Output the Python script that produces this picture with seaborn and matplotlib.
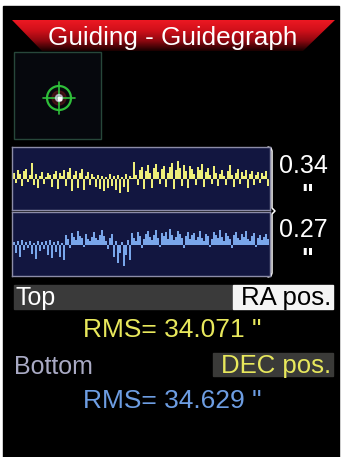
import numpy as np
import pandas as pd
import matplotlib
matplotlib.use('Agg')
import matplotlib.pyplot as plt
import seaborn as sns
from matplotlib.patches import Polygon, Rectangle, Circle
from matplotlib.colors import LinearSegmentedColormap

# guide error traces (screen pixels, + up / - down from centre line)
ra_trace = [
    6, -4, 9, 5, -7, 8, 10, -3, 4, 16,
    -6, 5, -9, 3, 7, -5, 2, 6, 4, -8,
    5, 8, -10, 6, 3, 9, -7, 7, 11, -12,
    4, 8, -9, 6, 10, -11, 3, 7, -6, 5,
    2, -8, 4, -10, 3, -12, 2, -9, 5, -7,
    3, -11, 4, -14, 2, -8, 5, -13, 3, 1,
    17, 4, -6, 9, 12, -10, 8, 14, 6, -9,
    11, 15, 7, -5, 10, 13, -8, 6, 12, 16,
    -10, 9, 18, 11, -7, 14, 8, -9, 13, 10,
    5, -6, 12, 9, 15, -8, 7, 11, 4, -5,
    13, 6, -7, 5, 9, 3, -6, 8, 14, 4,
    -8, 6, 10, -5, 7, 3, 9, -9, 5, 8,
    -6, 4, 7, -4, 6, 3, 8, -7,
]
dec_trace = [
    2, -8, 3, -12, 4, -5, 2, -3, 3, -9, 1, -14, 3, -6, 2, -4, 3, -10, 4, -13,
    2, -7, 3, -12, 1, -15,
    9, 5, -3, 11, 7, 4, 13, 8, 6, -2, 10, 5, 3, 7, 12, 6, 4, 9, 14, 8, 3, -4, 6, 10,
    -12, 3, -18, -8, 2, -21, -10, 4, -15,
    11, 6, 3, 12, 8, -3, 5, 10, 13, 7, 4, 9, 14, 6, -2, 11, 8, 12, 5, 15,
    9, 4, 7, 13, 10, 6, -3, 8, 12, 5, 9, 11, 4, 7, 13, 6, 3, 10, 8, -2,
    5, 12, 9, 6, 14, 7, 3, 11, 8, 5, -3, 9, 12, 6, 4, 10, 7, 13, 5, 3,
    8, 11, -2, 6, 9, 4, 7, 10, 5,
]
scale_labels = ['0.34', '0.27']
rms_labels = ['RMS= 34.071 "', 'RMS= 34.629 "']
title = 'Guiding - Guidegraph'

sns.set_style('dark')
plt.rcParams['font.family'] = ['Liberation Sans', 'DejaVu Sans']

W, H = 342, 457
fig = plt.figure(figsize=(W / 100, H / 100), dpi=100, facecolor='white')


def px_axes(x0, y0, x1, y1):
    return fig.add_axes([x0 / W, 1 - y1 / H, (x1 - x0) / W, (y1 - y0) / H])


canvas = fig.add_axes([0, 0, 1, 1])
canvas.axis('off')
canvas.add_patch(Rectangle((3, 6), 336, 451, color='black', zorder=0))

# red title banner with vertical fade
red = LinearSegmentedColormap.from_list('banner', ['#ec1822', '#d0101a', '#900810', '#1a0000'])
grad = np.linspace(0, 1, 64).reshape(-1, 1)
im = canvas.imshow(grad, extent=(12, 335, 51, 20), cmap=red, aspect='auto', zorder=1)
banner = Polygon([(12, 20), (335, 20), (303, 51), (42, 51)], closed=True, fc='none', ec='none')
canvas.add_patch(banner)
im.set_clip_path(banner)
canvas.text(173, 45, title, ha='center', va='baseline', color='white', fontsize=18.8, zorder=3)

# star thumbnail
canvas.add_patch(Rectangle((14, 52), 87, 87, fc='#06080d', ec='#27473a', lw=1, zorder=1))
canvas.add_patch(Circle((59, 98), 7, color='#6a1a1a', alpha=0.5, zorder=2))
canvas.add_patch(Circle((59, 98), 12, fill=False, ec='#2fbf3a', lw=1.6, zorder=3))
canvas.plot([43, 75], [98, 98], color='#2fbf3a', lw=1.2, zorder=3)
canvas.plot([59, 59], [82, 114], color='#2fbf3a', lw=1.2, zorder=3)
canvas.add_patch(Circle((59, 98), 3.5, color='#dfe6ff', alpha=0.6, zorder=4))
canvas.add_patch(Rectangle((57.5, 96.5), 3, 3, color='white', zorder=5))

# the two guide graphs
panels = [(ra_trace, '#eeee7a', (12, 147, 270, 210)),
          (dec_trace, '#79a6ea', (12, 212, 270, 276))]
for vals, col, box in panels:
    ax = px_axes(*box)
    df = pd.DataFrame({'t': np.arange(len(vals)), 'err': vals})
    sns.barplot(data=df, x='t', y='err', color=col, saturation=1, width=0.6,
                linewidth=0, native_scale=True, ax=ax)
    ax.set_facecolor('#121640')
    ax.set_xlim(-1, len(vals))
    ax.set_ylim(-31, 32)
    ax.set_xticks([])
    ax.set_yticks([])
    ax.set_xlabel('')
    ax.set_ylabel('')
    ax.grid(False)
    for s in ax.spines.values():
        s.set_visible(True)
        s.set_color('#8c8ca8')
        s.set_linewidth(1)

# bracket on the right of the graphs
canvas.plot([268, 271, 272, 272, 275, 272, 272, 271, 268],
            [147, 148, 151, 208, 211, 214, 273, 276, 277], color='white', lw=1.1, zorder=3)

for lab, base, qbase in zip(scale_labels, [173, 237], [202, 266]):
    canvas.text(279, base, lab, ha='left', va='baseline', color='white', fontsize=18)
    canvas.text(307, qbase, '"', ha='center', va='baseline', color='white', fontsize=18,
                fontweight='bold')

# status rows
canvas.add_patch(Rectangle((14, 285), 219, 24, color='#3a3a3a', zorder=1))
canvas.add_patch(Rectangle((233, 285), 100, 24, color='#f4f4f4', zorder=1))
canvas.text(15, 305, 'Top', ha='left', va='baseline', color='white', fontsize=18, zorder=3)
canvas.text(331, 305, 'RA pos.', ha='right', va='baseline', color='black', fontsize=18.5, zorder=3)
canvas.text(172, 337, rms_labels[0], ha='center', va='baseline', color='#e8e85c', fontsize=19)

canvas.add_patch(Rectangle((213, 353), 120, 23, color='#3a3a38', zorder=1))
canvas.text(14, 374, 'Bottom', ha='left', va='baseline', color='#a9aac4', fontsize=18, zorder=3)
canvas.text(331, 373, 'DEC pos.', ha='right', va='baseline', color='#e8e85c', fontsize=18.5, zorder=3)
canvas.text(172, 408, rms_labels[1], ha='center', va='baseline', color='#6d9de2', fontsize=19)

canvas.set_xlim(0, W)
canvas.set_ylim(H, 0)
fig.savefig('out.png', dpi=100, facecolor=fig.get_facecolor())
